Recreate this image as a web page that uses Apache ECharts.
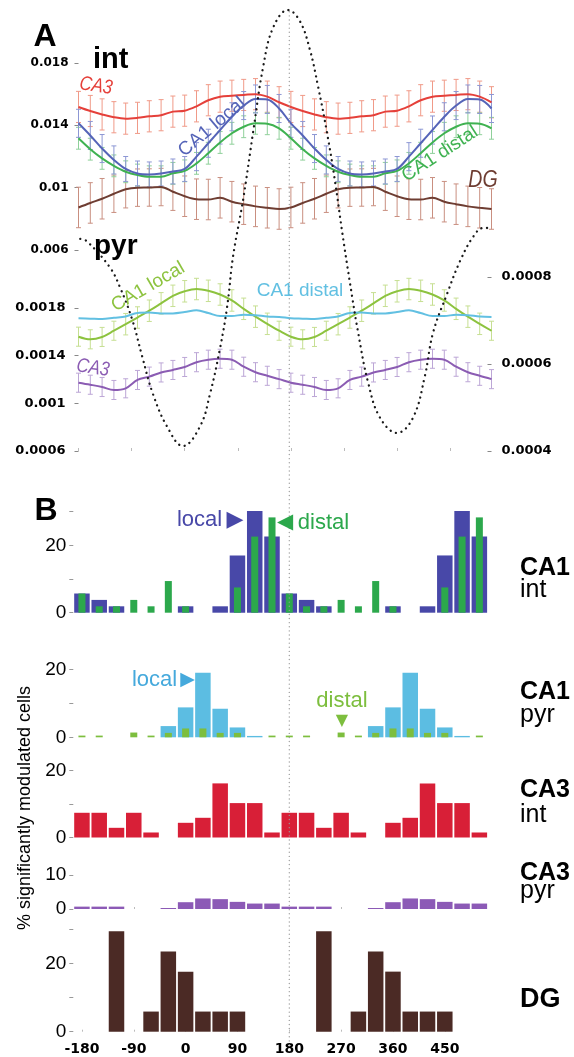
<!DOCTYPE html>
<html><head><meta charset="utf-8">
<script src="https://cdn.jsdelivr.net/npm/echarts@6/dist/echarts.min.js"></script>
<style>html,body{margin:0;padding:0;background:#fff}#c{width:574px;height:1057px}</style>
</head><body><div id="c"></div>
<script>
// ---------- Panel A data (firing rate vs theta phase) ----------
const phaseA = [-180,-160,-140,-120,-100,-80,-60,-40,-20,0,20,40,60,80,100,120,140,160,180,200,220,240,260,280,300,320,340,360,380,400,420,440,460,480,500,520];
const ca3Int = [0.01518,0.01492,0.01470,0.01452,0.01443,0.01448,0.01458,0.01465,0.01488,0.01494,0.01522,0.01561,0.01584,0.01590,0.01595,0.01600,0.01584,0.01548,
                0.01518,0.01492,0.01470,0.01452,0.01443,0.01448,0.01458,0.01465,0.01488,0.01494,0.01522,0.01561,0.01584,0.01590,0.01595,0.01600,0.01584,0.01548];
const ca3IntErr = [0.0010,0.0010,0.0010,0.0010,0.0010,0.0010,0.0010,0.0010,0.0010,0.0010,0.0010,0.0010,0.0010,0.0010,0.0010,0.0010,0.0010,0.0010,
                   0.0010,0.0010,0.0010,0.0010,0.0010,0.0010,0.0010,0.0010,0.0010,0.0010,0.0010,0.0010,0.0010,0.0010,0.0010,0.0010,0.0010,0.0010];
const ca1LocalInt = [0.01413,0.01335,0.01251,0.01178,0.01120,0.01091,0.01085,0.01091,0.01104,0.01120,0.01199,0.01285,0.01370,0.01455,0.01527,0.01569,0.01566,0.01508,
                     0.01413,0.01335,0.01251,0.01178,0.01120,0.01091,0.01085,0.01091,0.01104,0.01120,0.01199,0.01285,0.01370,0.01455,0.01527,0.01569,0.01566,0.01508];
const ca1LocalIntErr = [0.0009,0.0009,0.0009,0.0009,0.0008,0.0008,0.0008,0.0008,0.0008,0.0008,0.0009,0.0009,0.0009,0.0009,0.0009,0.0009,0.0009,0.0009,
                        0.0009,0.0009,0.0009,0.0009,0.0008,0.0008,0.0008,0.0008,0.0008,0.0008,0.0009,0.0009,0.0009,0.0009,0.0009,0.0009,0.0009,0.0009];
const ca1DistalInt = [0.01317,0.01247,0.01188,0.01140,0.01102,0.01081,0.01070,0.01070,0.01092,0.01108,0.01156,0.01221,0.01290,0.01349,0.01391,0.01413,0.01410,0.01381,
                      0.01317,0.01247,0.01188,0.01140,0.01102,0.01081,0.01070,0.01070,0.01092,0.01108,0.01156,0.01221,0.01290,0.01349,0.01391,0.01413,0.01410,0.01381];
const ca1DistalIntErr = [0.0007,0.0007,0.0007,0.0007,0.0007,0.0007,0.0007,0.0007,0.0007,0.0007,0.0007,0.0007,0.0007,0.0007,0.0007,0.0007,0.0007,0.0007,
                         0.0007,0.0007,0.0007,0.0007,0.0007,0.0007,0.0007,0.0007,0.0007,0.0007,0.0007,0.0007,0.0007,0.0007,0.0007,0.0007,0.0007,0.0007];
const dgInt = [0.00873,0.00902,0.00929,0.00961,0.00990,0.01000,0.01001,0.01004,0.00974,0.00945,0.00926,0.00924,0.00935,0.00910,0.00894,0.00880,0.00871,0.00863,
               0.00873,0.00902,0.00929,0.00961,0.00990,0.01000,0.01001,0.01004,0.00974,0.00945,0.00926,0.00924,0.00935,0.00910,0.00894,0.00880,0.00871,0.00863];
const dgIntErr = [0.0013,0.0013,0.0013,0.0012,0.0012,0.0012,0.0012,0.0012,0.0012,0.0013,0.0013,0.0013,0.0013,0.0013,0.0013,0.0013,0.0013,0.0013,
                  0.0013,0.0013,0.0013,0.0012,0.0012,0.0012,0.0012,0.0012,0.0012,0.0013,0.0013,0.0013,0.0013,0.0013,0.0013,0.0013,0.0013,0.0013];
const ca1LocalPyr = [0.001559,0.001537,0.001557,0.001609,0.001664,0.001720,0.001777,0.001839,0.001902,0.001940,0.001959,0.001944,0.001913,0.001863,0.001793,0.001727,0.001667,0.001609,
                     0.001559,0.001537,0.001557,0.001609,0.001664,0.001720,0.001777,0.001839,0.001902,0.001940,0.001959,0.001944,0.001913,0.001863,0.001793,0.001727,0.001667,0.001609];
const ca1LocalPyrErr = [0.00008,0.00008,0.00008,0.00008,0.00009,0.00009,0.00009,0.00009,0.00009,0.00009,0.00009,0.00009,0.00009,0.00009,0.00009,0.00009,0.00009,0.00008,
                        0.00008,0.00008,0.00008,0.00008,0.00009,0.00009,0.00009,0.00009,0.00009,0.00009,0.00009,0.00009,0.00009,0.00009,0.00009,0.00009,0.00009,0.00008];
const ca1DistalPyr = [0.000705,0.000704,0.000703,0.000706,0.000709,0.000717,0.000718,0.000716,0.000716,0.000719,0.000723,0.000717,0.000710,0.000710,0.000713,0.000712,0.000709,0.000708,
                      0.000705,0.000704,0.000703,0.000706,0.000709,0.000717,0.000718,0.000716,0.000716,0.000719,0.000723,0.000717,0.000710,0.000710,0.000713,0.000712,0.000709,0.000708];
const ca3Pyr = [0.001173,0.001156,0.001137,0.001112,0.001126,0.001196,0.001224,0.001259,0.001280,0.001305,0.001345,0.001366,0.001374,0.001366,0.001307,0.001261,0.001231,0.001203,
                0.001173,0.001156,0.001137,0.001112,0.001126,0.001196,0.001224,0.001259,0.001280,0.001305,0.001345,0.001366,0.001374,0.001366,0.001307,0.001261,0.001231,0.001203];
const ca3PyrErr = [0.00008,0.00008,0.00008,0.00008,0.00008,0.00008,0.00008,0.00008,0.00008,0.00008,0.00008,0.00008,0.00008,0.00008,0.00008,0.00008,0.00008,0.00008,
                   0.00008,0.00008,0.00008,0.00008,0.00008,0.00008,0.00008,0.00008,0.00008,0.00008,0.00008,0.00008,0.00008,0.00008,0.00008,0.00008,0.00008,0.00008];
// reference theta oscillation (normalised)
const thetaPhase = [-177,-166,-127,-110,-89,-72,-54,-30,-3,26,43,60,72,82,99,116,133,150,175,195,212,226,241,255,267,280,294,311,331,360,387,407,421,445,467,489,506,520];
const thetaWave  = [-0.05,-0.06,-0.18,-0.27,-0.42,-0.59,-0.76,-0.91,-1.0,-0.91,-0.76,-0.55,-0.36,-0.13,0.13,0.44,0.74,0.92,1.0,0.95,0.82,0.65,0.44,0.21,-0.02,-0.25,-0.48,-0.71,-0.87,-0.94,-0.87,-0.68,-0.48,-0.30,-0.15,-0.04,0.0,0.0];
const intTicks = [0.006, 0.01, 0.014, 0.018];
const pyrTicks = [0.0006, 0.001, 0.0014, 0.0018];
const pyrRightTicks = [0.0004, 0.0006, 0.0008];

// ---------- Panel B data (% significantly modulated cells per 30 deg bin) ----------
const binCenters = [-180,-150,-120,-90,-60,-30,0,30,60,90,120,150,180,210,240,270,300,330,360,390,420,450,480,510];
const ca1IntLocalHist  = [5.7,3.8,1.9,0,0,0,1.9,0,1.9,17.0,30.2,22.6, 5.7,3.8,1.9,0,0,0,1.9,0,1.9,17.0,30.2,22.6];
const ca1IntDistalHist = [5.7,1.9,1.9,3.8,1.9,9.4,1.9,0,0,7.5,22.6,28.3, 5.7,1.9,1.9,3.8,1.9,9.4,1.9,0,0,7.5,22.6,28.3];
const ca1PyrLocalHist  = [0,0,0,0,0,3.3,8.8,19.0,8.4,2.9,0.4,0, 0,0,0,0,0,3.3,8.8,19.0,8.4,2.9,0.4,0];
const ca1PyrDistalHist = [0.5,0.5,0,1.4,0.5,1.3,2.6,2.6,1.3,1.3,0,0.5, 0.5,0.5,0,1.4,0.5,1.3,2.6,2.6,1.3,1.3,0,0.5];
const ca3IntHist = [7.4,7.4,2.9,7.4,1.5,0,4.4,5.9,16.2,10.3,10.3,1.5, 7.4,7.4,2.9,7.4,1.5,0,4.4,5.9,16.2,10.3,10.3,1.5];
const ca3PyrHist = [0.7,0.7,0.7,0,0,0.3,2.0,3.1,2.9,2.1,1.6,1.6, 0.7,0.7,0.7,0,0,0.3,2.0,3.1,2.9,2.1,1.6,1.6];
const dgHist = [0,0,29.4,0,5.9,23.5,17.6,5.9,5.9,5.9,0,0, 0,0,29.4,0,5.9,23.5,17.6,5.9,5.9,5.9,0,0];
const phaseTickLabels = [-180,-90,0,90,180,270,360,450];
const refPhase = [180, 180];
const refSpan = [0, 1];

// ---------- build ----------
const SANS = '"Liberation Sans", Arial, sans-serif';
const DJ = '"DejaVu Sans", sans-serif';
const zip = (xs, ys) => xs.map((x, i) => [x, ys[i]]);

function hx(grid, min, max, extra) {
  return Object.assign({type: 'value', gridIndex: grid, min: min, max: max,
    axisLine: {show: false, onZero: false}, axisTick: {show: false}, axisLabel: {show: false}, splitLine: {show: false}}, extra || {});
}
function vy(grid, min, max, extra) {
  return Object.assign({type: 'value', gridIndex: grid, min: min, max: max,
    axisLine: {show: false, onZero: false}, axisTick: {show: false}, axisLabel: {show: false}, splitLine: {show: false}}, extra || {});
}
function histY(grid, min, max, labels, ticks) {
  return vy(grid, min, max, {
    axisTick: {show: true, customValues: ticks, length: 4, lineStyle: {color: '#999', width: 1}},
    axisLabel: {show: true, customValues: labels, margin: 7, color: '#000', fontFamily: SANS, fontSize: 19}
  });
}
function errSeries(xs, vals, errs, color, xi, yi) {
  return {
    type: 'custom', xAxisIndex: xi, yAxisIndex: yi, silent: true, z: 2, clip: false,
    data: xs.map((x, i) => [x, vals[i] - errs[i], vals[i] + errs[i]]),
    encode: {x: 0, y: [1, 2]},
    renderItem: function (params, api) {
      const x = api.value(0);
      const lo = api.coord([x, api.value(1)]);
      const hi = api.coord([x, api.value(2)]);
      const w = 2.5, st = {stroke: color, lineWidth: 1};
      return {type: 'group', children: [
        {type: 'line', shape: {x1: lo[0], y1: lo[1], x2: hi[0], y2: hi[1]}, style: st},
        {type: 'line', shape: {x1: lo[0] - w, y1: lo[1], x2: lo[0] + w, y2: lo[1]}, style: st},
        {type: 'line', shape: {x1: hi[0] - w, y1: hi[1], x2: hi[0] + w, y2: hi[1]}, style: st}
      ]};
    }
  };
}
function lineSeries(xs, vals, color, xi, yi) {
  return {type: 'line', xAxisIndex: xi, yAxisIndex: yi, data: zip(xs, vals), showSymbol: false, symbol: 'none',
    smooth: 0.35, lineStyle: {color: color, width: 2}, z: 3, silent: true};
}
function barSeries(vals, color, width, xi, yi, z) {
  return {type: 'bar', xAxisIndex: xi, yAxisIndex: yi, data: zip(binCenters, vals), barWidth: width,
    itemStyle: {color: color}, z: z, clip: false, silent: true};
}
function txt(text, x, y, font, fill, opts) {
  const o = Object.assign({}, opts || {});
  const st = o.style || {};
  delete o.style;
  return Object.assign({type: 'text', x: x, y: y, silent: true, z: 100,
    style: Object.assign({text: text, font: font, fill: fill, align: 'center', verticalAlign: 'middle'}, st)}, o);
}

const C = {
  red: '#e5403a', redE: '#f09a88', blue: '#5564b8', blueE: '#8d97d4', green: '#3fb251', greenE: '#8fd09a',
  brown: '#6e3d32', brownE: '#c98f80', lgreen: '#8dc33f', lgreenE: '#c6df92', cyan: '#62c0e2', purple: '#8b5cb3', purpleE: '#bca6d6',
  hBlue: '#4848a8', hGreen: '#2ca84c', hCyan: '#5cbde2', hLgreen: '#7dbe3e', hRed: '#d81f37', hPurple: '#8c5ab6', hBrown: '#4b2a25'
};

const grids = [
  {left: 78.5, top: 63, width: 413, height: 187},
  {left: 78.5, top: 260.3, width: 413, height: 190.7},
  {left: 78.5, top: 10, width: 413, height: 436},
  {left: 73.3, top: 508.3, width: 414.7, height: 104.4},
  {left: 73.3, top: 669.3, width: 414.7, height: 68},
  {left: 73.3, top: 770.7, width: 414.7, height: 66.8},
  {left: 73.3, top: 875, width: 414.7, height: 34},
  {left: 73.3, top: 929.3, width: 414.7, height: 102.4},
  {left: 73.3, top: 10, width: 414.7, height: 1035}
].map(g => Object.assign({outerBoundsMode: 'none', containLabel: false}, g));

const smallTicks = {show: true, inside: true, length: 2, customValues: phaseTickLabels, lineStyle: {color: '#bbb'}};
const xAxes = [
  hx(0, -180, 520),
  hx(1, -180, 520, {axisTick: {show: true, inside: true, length: 3, customValues: phaseTickLabels, lineStyle: {color: '#bbb'}}}),
  hx(2, -180, 520),
  hx(3, -195, 525),
  hx(3, -195, 525),
  hx(4, -195, 525),
  hx(4, -195, 525),
  hx(5, -195, 525),
  hx(6, -195, 525, {axisTick: smallTicks}),
  hx(7, -195, 525, {axisTick: smallTicks,
    axisLabel: {show: true, customValues: phaseTickLabels, margin: 11, color: '#000', fontFamily: DJ, fontWeight: 'bold', fontSize: 14}}),
  hx(8, -195, 525)
];
const yAxes = [
  vy(0, 0.006, 0.018, {position: 'left',
    axisTick: {show: true, customValues: intTicks, length: 4, lineStyle: {color: '#888'}},
    axisLabel: {show: true, customValues: intTicks, margin: 10, color: '#000', fontFamily: DJ, fontWeight: 'bold', fontSize: 12}}),
  vy(1, 0.0006, 0.0022, {position: 'left',
    axisTick: {show: true, customValues: pyrTicks, length: 4, lineStyle: {color: '#888'}},
    axisLabel: {show: true, customValues: pyrTicks, margin: 13, color: '#000', fontFamily: DJ, fontWeight: 'bold', fontSize: 13}}),
  vy(1, 0.0004, 0.000838, {position: 'right',
    axisTick: {show: true, inside: true, customValues: pyrRightTicks, length: 4, lineStyle: {color: '#888'}},
    axisLabel: {show: true, customValues: pyrRightTicks, margin: 10, color: '#000', fontFamily: DJ, fontWeight: 'bold', fontSize: 13}}),
  vy(2, -1, 1),
  histY(3, 0, 31, [0, 20], [0, 10, 20, 30]),
  histY(4, 0, 20, [0, 20], [0, 10, 20]),
  histY(5, 0, 20, [0, 20], [0, 10, 20]),
  histY(6, 0, 10, [0, 10], [0, 10]),
  histY(7, 0, 30, [0, 20], [0, 10, 20, 30]),
  vy(8, 0, 1)
];

const series = [
  // panel A int
  errSeries(phaseA, ca3Int, ca3IntErr, C.redE, 0, 0),
  errSeries(phaseA, dgInt, dgIntErr, C.brownE, 0, 0),
  errSeries(phaseA, ca1DistalInt, ca1DistalIntErr, C.greenE, 0, 0),
  errSeries(phaseA, ca1LocalInt, ca1LocalIntErr, C.blueE, 0, 0),
  lineSeries(phaseA, ca3Int, C.red, 0, 0),
  lineSeries(phaseA, dgInt, C.brown, 0, 0),
  lineSeries(phaseA, ca1DistalInt, C.green, 0, 0),
  lineSeries(phaseA, ca1LocalInt, C.blue, 0, 0),
  // panel A pyr
  errSeries(phaseA, ca1LocalPyr, ca1LocalPyrErr, C.lgreenE, 1, 1),
  errSeries(phaseA, ca3Pyr, ca3PyrErr, C.purpleE, 1, 1),
  lineSeries(phaseA, ca1LocalPyr, C.lgreen, 1, 1),
  lineSeries(phaseA, ca3Pyr, C.purple, 1, 1),
  lineSeries(phaseA, ca1DistalPyr, C.cyan, 1, 2),
  // theta reference
  {type: 'line', xAxisIndex: 2, yAxisIndex: 3, data: zip(thetaPhase, thetaWave), showSymbol: false, symbol: 'none', smooth: 0.4,
   lineStyle: {color: '#1a1a1a', width: 2.3, type: [0.1, 5.6], cap: 'round'}, z: 5, silent: true},
  // panel B
  barSeries(ca1IntLocalHist, C.hBlue, 15.5, 3, 4, 2),
  barSeries(ca1IntDistalHist, C.hGreen, 7, 4, 4, 3),
  barSeries(ca1PyrLocalHist, C.hCyan, 15.5, 5, 5, 2),
  barSeries(ca1PyrDistalHist, C.hLgreen, 7, 6, 5, 3),
  barSeries(ca3IntHist, C.hRed, 15.5, 7, 6, 2),
  barSeries(ca3PyrHist, C.hPurple, 15.5, 8, 7, 2),
  barSeries(dgHist, C.hBrown, 15.5, 9, 8, 2),
  // 180 deg reference
  {type: 'line', xAxisIndex: 10, yAxisIndex: 9, data: zip(refPhase, refSpan), showSymbol: false, symbol: 'none',
   lineStyle: {color: '#9a9a9a', width: 1.3, type: [0.1, 4], cap: 'round'}, z: 20, silent: true}
];

const d = Math.PI / 180;
const graphic = [
  txt('A', 45, 37, 'bold 32px ' + SANS, '#000'),
  txt('int', 93, 59.5, 'bold 29px ' + SANS, '#000', {style: {align: 'left'}}),
  txt('pyr', 94, 246, 'bold 28px ' + SANS, '#000', {style: {align: 'left'}}),
  txt('CA3', 96, 86, 'italic 20px ' + SANS, C.red, {rotation: -9 * d, scaleX: 0.85}),
  txt('CA1 local', 212, 127, '19px ' + SANS, C.blue, {rotation: 40 * d}),
  txt('CA1 distal', 440, 154, '19px ' + SANS, C.green, {rotation: 33 * d}),
  txt('DG', 483, 181, 'italic 23px ' + SANS, C.brown, {scaleX: 0.85}),
  txt('CA1 local', 148, 287, '19px ' + SANS, C.lgreen, {rotation: 30 * d}),
  txt('CA1 distal', 300, 291, '19px ' + SANS, C.cyan),
  txt('CA3', 93, 368, 'italic 20px ' + SANS, C.purple, {rotation: -9 * d, scaleX: 0.85}),
  txt('B', 46, 511, 'bold 32px ' + SANS, '#000'),
  txt('local', 199.5, 520, '22px ' + SANS, C.hBlue),
  txt('\u25B6', 235, 520, '22px ' + DJ, C.hBlue),
  txt('\u25C0', 285, 523, '21px ' + DJ, C.hGreen),
  txt('distal', 323.5, 523, '22px ' + SANS, C.hGreen),
  txt('local', 154.5, 680, '22px ' + SANS, '#45a9dc'),
  txt('\u25B6', 187.5, 680, '19px ' + DJ, '#45a9dc'),
  txt('distal', 342, 701, '22px ' + SANS, C.hLgreen),
  txt('\u25BC', 342, 721, '16px ' + DJ, C.hLgreen),
  txt('CA1', 520, 568, 'bold 25px ' + SANS, '#000', {style: {align: 'left'}}),
  txt('int', 520, 590, '25px ' + SANS, '#000', {style: {align: 'left'}}),
  txt('CA1', 520, 692, 'bold 25px ' + SANS, '#000', {style: {align: 'left'}}),
  txt('pyr', 520, 715, '25px ' + SANS, '#000', {style: {align: 'left'}}),
  txt('CA3', 520, 790, 'bold 25px ' + SANS, '#000', {style: {align: 'left'}}),
  txt('int', 520, 815, '25px ' + SANS, '#000', {style: {align: 'left'}}),
  txt('CA3', 520, 873, 'bold 25px ' + SANS, '#000', {style: {align: 'left'}}),
  txt('pyr', 520, 891, '25px ' + SANS, '#000', {style: {align: 'left'}}),
  txt('DG', 520, 1000, 'bold 27px ' + SANS, '#000', {style: {align: 'left'}}),
  txt('% significantly modulated cells', 25, 808, '18px ' + SANS, '#000', {rotation: 90 * d})
];

const chart = echarts.init(document.getElementById('c'), null, {renderer: 'canvas'});
chart.setOption({
  animation: false,
  backgroundColor: '#fff',
  grid: grids,
  xAxis: xAxes,
  yAxis: yAxes,
  series: series,
  graphic: graphic
});
</script>
</body></html>
